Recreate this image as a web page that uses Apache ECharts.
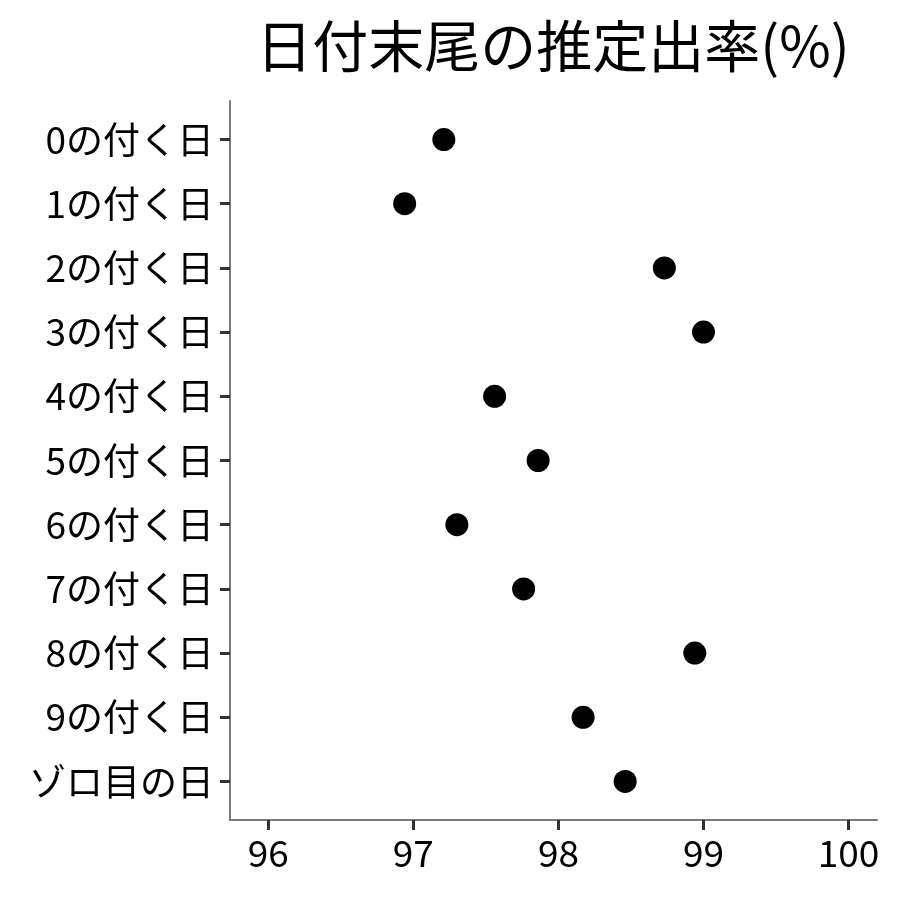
<!DOCTYPE html>
<html>
    <head>
        <meta charset="utf-8">
        <script src="https://cdn.jsdelivr.net/npm/echarts@6/dist/echarts.min.js"></script>
        <style>
            html, body { margin: 0; padding: 0; background: #fff; }
            #main { width: 900px; height: 900px; }
        </style>
    </head>
    <body>
        <div id="main"></div>
        <script>

        var titleText = '日付末尾の推定出率(%)';
        var categories = ['0の付く日', '1の付く日', '2の付く日', '3の付く日', '4の付く日',
            '5の付く日', '6の付く日', '7の付く日', '8の付く日', '9の付く日', 'ゾロ目の日'];
        var rates = [97.21, 96.94, 98.73, 99.00, 97.56, 97.86, 97.30, 97.76, 98.94, 98.17, 98.46];
        var xTicks = [96, 97, 98, 99, 100];

        var font = '"Noto Sans CJK JP", "Noto Sans", sans-serif';
        var myChart = echarts.init(document.getElementById('main'));

        var points = rates.map(function (v, i) {
            return [v, i];
        });
        var rowTicks = categories.map(function (c, i) {
            return i;
        });

        option = {
            backgroundColor: '#fff',
            animation: false,
            graphic: [{
                type: 'text',
                x: 553,
                y: 46,
                style: {
                    text: titleText,
                    font: '56px ' + font,
                    fill: '#000',
                    textAlign: 'center',
                    textVerticalAlign: 'middle'
                }
            }],
            grid: {
                left: 230,
                right: 23,
                top: 101,
                bottom: 80,
                outerBoundsMode: 'none'
            },
            xAxis: {
                type: 'value',
                min: 95.736,
                max: 100.196,
                splitLine: { show: false },
                axisLine: { onZero: false, lineStyle: { color: '#7a7a7a', width: 2 } },
                axisTick: {
                    customValues: xTicks,
                    length: 10,
                    lineStyle: { color: '#333', width: 3 }
                },
                axisLabel: {
                    customValues: xTicks,
                    margin: 14,
                    color: '#000',
                    fontSize: 37,
                    fontFamily: font
                }
            },
            yAxis: {
                type: 'value',
                inverse: true,
                min: -0.6,
                max: 10.6,
                splitLine: { show: false },
                axisLine: { show: true, onZero: false, lineStyle: { color: '#7a7a7a', width: 2 } },
                axisTick: {
                    show: true,
                    customValues: rowTicks,
                    length: 10,
                    lineStyle: { color: '#333', width: 3 }
                },
                axisLabel: {
                    customValues: rowTicks,
                    margin: 16,
                    color: '#000',
                    fontSize: 37,
                    fontFamily: font,
                    formatter: function (v) {
                        return categories[Math.round(v)];
                    }
                }
            },
            series: [
                {
                    type: 'scatter',
                    data: points,
                    symbol: 'circle',
                    symbolSize: 23,
                    itemStyle: { color: '#000', opacity: 1 }
                }
            ]
        };

        myChart.setOption(option);

        </script>
    </body>
</html>
